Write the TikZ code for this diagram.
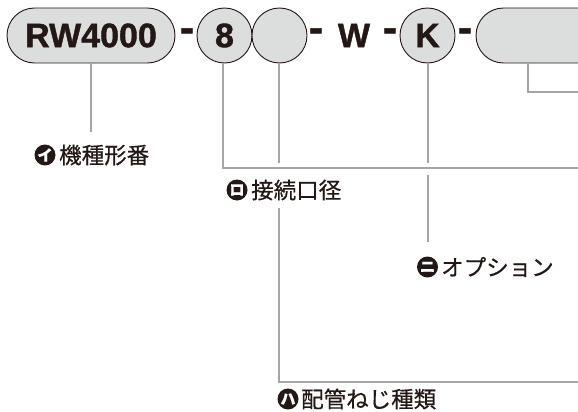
\documentclass[tikz,border=0pt]{standalone}
\usepackage{fontspec}
\setmainfont{Liberation Sans}[BoldFeatures={FakeBold=1.2}]
\newfontfamily\jp{Noto Sans CJK JP}[FakeBold=0.5]
\definecolor{partfill}{RGB}{220,221,221}
\definecolor{leadgray}{RGB}{165,165,165}
\definecolor{ink}{RGB}{35,24,21}
\begin{document}
\begin{tikzpicture}[x=1pt,y=-1pt,
  part/.style={draw=ink, line width=0.9pt, fill=partfill, inner sep=0pt, text=ink,
    font=\bfseries\fontsize{34}{34}\selectfont},
  pill/.style={part, rectangle, rounded corners=27.5pt, minimum height=55pt},
  ring/.style={part, circle, minimum size=55pt},
  sepmark/.style={inner sep=0pt, text=ink, font=\bfseries\fontsize{42}{42}\selectfont},
  letter/.style={inner sep=0pt, text=ink, font=\bfseries\fontsize{34}{34}\selectfont},
  lead/.style={draw=leadgray, line width=2.5pt},
  icon/.style={circle, fill=ink, text=white, inner sep=0pt, minimum size=21pt,
    font=\jp\bfseries\fontsize{15}{15}\selectfont},
  lbl/.style={anchor=west, inner sep=0pt, text=ink, font=\jp\fontsize{22.5}{22.5}\selectfont}]
\useasboundingbox (0,0) rectangle (578,412);
\clip (0,0) rectangle (578,412);

% parts of the model code
\node[pill, minimum width=168pt] (rw) at (91,35.5) {RW4000};
\node[sepmark] (d1) at (187,35) {-};
\node[ring] (c8) at (224.5,35.5) {8};
\node[ring] (cx) at (279.5,35.5) {};
\node[sepmark] (d2) at (316,35) {-};
\node[letter] (w) at (354,35.5) {W};
\node[sepmark] (d3) at (390,35) {-};
\node[ring] (ck) at (427.5,35.5) {K};
\node[sepmark] (d4) at (465,35) {-};
\node[pill, minimum width=150pt] (pl) at (551,35.5) {};

% labels
\node[icon] (i1) at (45,155) {イ};
\node[lbl] (t1) at (59,155) {機種形番};
\node[icon] (i2) at (237,190) {ロ};
\node[lbl] (t2) at (251,190) {接続口径};
\node[icon] (i3) at (427.5,267) {ニ};
\node[lbl] (t3) at (441,267) {オプション};
\node[icon] (i4) at (288,399) {ハ};
\node[lbl] (t4) at (301,399) {配管ねじ種類};

% leader coordinates
\coordinate (e1) at (91,132);
\coordinate (b8) at (223,168);
\coordinate (e8) at (578,168);
\coordinate (ex) at (279,163);
\coordinate (sx) at (279,208);
\coordinate (bx) at (279,382);
\coordinate (fx) at (578,382);
\coordinate (ek) at (428,163);
\coordinate (sk) at (428,175);
\coordinate (fk) at (428,242);
\coordinate (pb) at (528,63.5);
\coordinate (pc) at (528,92);
\coordinate (pe) at (578,92);

% leaders
\draw[lead] (rw.south) -- (e1);
\draw[lead] (c8.south -| b8) -- (b8) -- (e8);
\draw[lead] (cx.south -| ex) -- (ex);
\draw[lead] (sx) -- (bx) -- (fx);
\draw[lead] (ck.south -| ek) -- (ek);
\draw[lead] (sk) -- (fk);
\draw[lead] (pb) -- (pc) -- (pe);
\end{tikzpicture}
\end{document}
